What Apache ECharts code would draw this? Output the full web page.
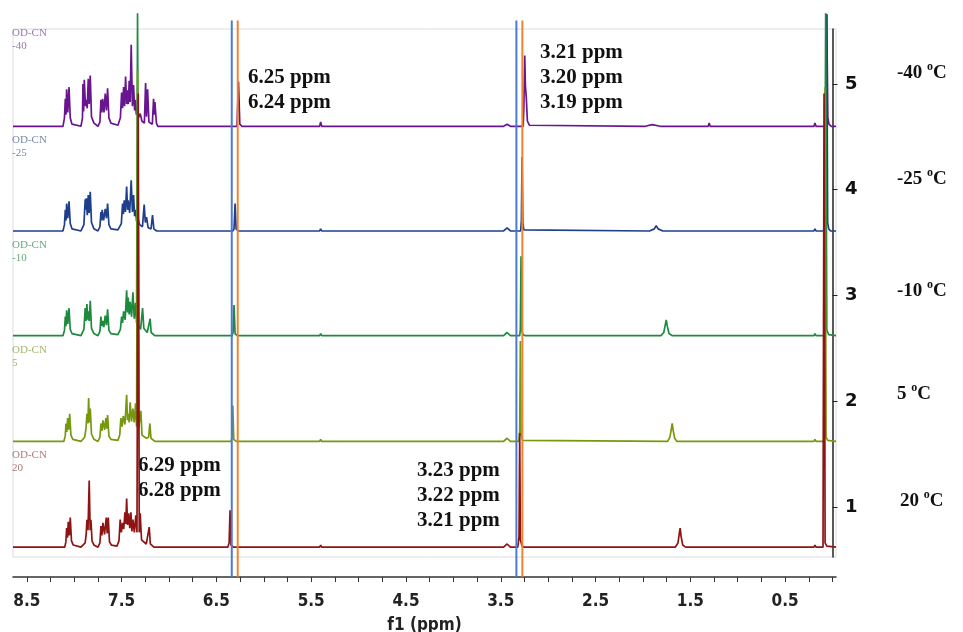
<!DOCTYPE html>
<html>
<head>
<meta charset="utf-8">
<title>VT 1H NMR</title>
<script src="https://cdn.jsdelivr.net/npm/echarts@6/dist/echarts.min.js"></script>
<style>
  html, body { margin: 0; padding: 0; background: #fff; }
  #chart { width: 963px; height: 632px; }
</style>
</head>
<body>
<div id="chart"></div>
<script>
// spectra: [ppm, intensity above own baseline]
var specM40 = [
  [8.646,0],[8.119,0],[8.103,0.08],[8.094,0.26],[8.087,0.11],[8.080,0.35],[8.068,0.13],[8.055,0.37],[8.042,0.08],[8.024,0.02],[7.929,0],
  [7.913,0.08],[7.908,0.40],[7.901,0.14],[7.894,0.44],[7.881,0.19],[7.873,0.25],[7.863,0.17],[7.852,0.45],[7.842,0.21],[7.831,0.48],[7.818,0.09],[7.792,0.03],[7.750,0],
  [7.729,0.04],[7.718,0.25],[7.709,0.13],[7.700,0.26],[7.686,0.13],[7.673,0.31],[7.660,0.15],[7.648,0.36],[7.634,0.08],[7.613,0.03],[7.539,0.01],
  [7.513,0.08],[7.500,0.32],[7.490,0.17],[7.479,0.37],[7.469,0.19],[7.458,0.47],[7.447,0.21],[7.437,0.34],[7.429,0.21],[7.420,0.43],[7.410,0.23],[7.399,0.77],[7.386,0.19],[7.374,0.39],[7.363,0.15],[7.353,0.25],[7.345,0.11],[7.336,0.19],[7.323,0.08],[7.304,0.12],[7.286,0.05],[7.260,0.03],[7.247,0.41],[7.237,0.09],[7.226,0.35],[7.212,0.04],[7.176,0.02],[7.163,0.26],[7.156,0.11],[7.149,0.23],[7.133,0.03],[7.118,0],
  [6.283,0],[6.267,0.42],[6.253,0.02],[6.232,0],
  [5.411,0],[5.400,0.04],[5.389,0],
  [3.470,0],[3.433,0.02],[3.398,0],
  [3.263,0],[3.256,0.19],[3.247,0.67],[3.240,0.38],[3.231,0.28],[3.219,0.05],[3.198,0.01],[3.177,0],
  [1.976,0],[1.902,0.015],[1.818,0],
  [1.311,0],[1.301,0.03],[1.290,0],
  [0.196,0],[0.185,0.03],[0.174,0],
  [0.070,0],[0.061,1.06],[0.049,0.08],[0.037,0.02],[0.016,0],[-0.037,0]
];
var specM25 = [
  [8.646,0],[8.119,0],[8.103,0.06],[8.094,0.20],[8.087,0.10],[8.080,0.26],[8.068,0.12],[8.055,0.28],[8.042,0.07],[8.024,0.02],[7.929,0],
  [7.898,0.06],[7.884,0.30],[7.878,0.20],[7.873,0.31],[7.862,0.15],[7.852,0.34],[7.842,0.17],[7.831,0.37],[7.818,0.08],[7.792,0.02],[7.750,0],
  [7.729,0.04],[7.718,0.18],[7.711,0.10],[7.705,0.20],[7.690,0.10],[7.673,0.21],[7.660,0.12],[7.648,0.26],[7.634,0.06],[7.613,0.02],[7.539,0.01],
  [7.503,0.07],[7.490,0.26],[7.481,0.16],[7.473,0.29],[7.460,0.18],[7.447,0.42],[7.437,0.20],[7.431,0.29],[7.415,0.17],[7.399,0.48],[7.386,0.18],[7.374,0.34],[7.363,0.14],[7.353,0.20],[7.342,0.09],[7.328,0.12],[7.310,0.06],[7.280,0.04],[7.262,0.25],[7.250,0.08],[7.237,0.13],[7.220,0.03],[7.190,0.02],[7.174,0.15],[7.160,0.02],[7.130,0],
  [6.325,0],[6.314,0.02],[6.303,0.26],[6.292,0.02],[6.270,0],
  [5.411,0],[5.400,0.02],[5.389,0],
  [3.470,0],[3.433,0.03],[3.398,0],
  [3.290,0],[3.282,0.10],[3.275,0.70],[3.267,0.08],[3.256,0.01],[3.240,0],
  [1.930,0],[1.880,0.02],[1.860,0.05],[1.840,0.02],[1.790,0],
  [1.311,0],[1.301,0.01],[1.290,0],
  [0.196,0],[0.185,0.02],[0.174,0],
  [0.080,0],[0.070,0.02],[0.061,2.05],[0.051,0.08],[0.040,0.02],[0.020,0],[-0.037,0]
];
var specM10 = [
  [8.646,0],[8.119,0],[8.103,0.05],[8.094,0.18],[8.087,0.09],[8.080,0.24],[8.068,0.11],[8.055,0.26],[8.042,0.06],[8.024,0.02],[7.929,0],
  [7.898,0.06],[7.884,0.26],[7.876,0.14],[7.866,0.30],[7.859,0.15],[7.852,0.23],[7.842,0.14],[7.831,0.33],[7.818,0.07],[7.792,0.02],[7.750,0],
  [7.729,0.04],[7.718,0.18],[7.710,0.09],[7.700,0.14],[7.688,0.08],[7.673,0.19],[7.660,0.10],[7.648,0.25],[7.634,0.05],[7.613,0.02],[7.539,0.01],
  [7.513,0.06],[7.500,0.18],[7.490,0.12],[7.479,0.23],[7.463,0.15],[7.447,0.43],[7.438,0.22],[7.431,0.36],[7.420,0.20],[7.410,0.32],[7.395,0.18],[7.381,0.41],[7.367,0.16],[7.353,0.31],[7.342,0.12],[7.332,3.05],[7.320,0.10],[7.300,0.06],[7.279,0.26],[7.266,0.07],[7.230,0.03],[7.199,0.16],[7.188,0.03],[7.150,0],
  [6.335,0],[6.324,0.03],[6.314,0.29],[6.303,0.02],[6.280,0],
  [5.411,0],[5.400,0.02],[5.389,0],
  [3.470,0],[3.433,0.03],[3.398,0],
  [3.300,0],[3.293,0.06],[3.286,0.75],[3.279,0.05],[3.265,0.01],[3.240,0],
  [1.810,0],[1.780,0.03],[1.765,0.10],[1.754,0.15],[1.743,0.09],[1.725,0.02],[1.690,0],
  [0.196,0],[0.185,0.02],[0.174,0],
  [0.085,0],[0.072,3.05],[0.060,0.05],[0.040,0.01],[0.020,0],[-0.037,0]
];
var spec5 = [
  [8.646,0],[8.110,0],[8.095,0.05],[8.087,0.17],[8.078,0.09],[8.069,0.22],[8.058,0.11],[8.048,0.26],[8.035,0.06],[8.015,0.02],[7.929,0],
  [7.890,0.04],[7.876,0.12],[7.866,0.26],[7.856,0.17],[7.848,0.41],[7.840,0.18],[7.831,0.31],[7.818,0.07],[7.792,0.02],[7.750,0],
  [7.729,0.04],[7.718,0.17],[7.708,0.10],[7.697,0.20],[7.680,0.11],[7.666,0.22],[7.657,0.12],[7.648,0.25],[7.634,0.05],[7.613,0.02],[7.539,0.01],
  [7.520,0.06],[7.508,0.22],[7.495,0.14],[7.483,0.24],[7.465,0.16],[7.447,0.44],[7.438,0.20],[7.431,0.26],[7.420,0.18],[7.410,0.37],[7.395,0.19],[7.381,0.31],[7.367,0.18],[7.353,0.36],[7.342,0.14],[7.332,3.51],[7.320,0.12],[7.297,0.29],[7.285,0.06],[7.240,0.03],[7.215,0.04],[7.202,0.17],[7.190,0.03],[7.150,0],
  [6.345,0],[6.335,0.04],[6.327,0.34],[6.317,0.02],[6.290,0],
  [5.411,0],[5.400,0.02],[5.389,0],
  [3.470,0],[3.433,0.03],[3.398,0],
  [3.310,0],[3.300,0.10],[3.293,0.95],[3.286,0.06],[3.270,0.01],[3.250,0],
  [1.740,0],[1.715,0.04],[1.700,0.12],[1.691,0.17],[1.680,0.10],[1.665,0.03],[1.640,0],
  [0.196,0],[0.185,0.02],[0.174,0],
  [0.090,0],[0.079,3.35],[0.068,0.04],[0.050,0.01],[0.030,0],[-0.037,0]
];
var spec20 = [
  [8.646,0],[8.100,0],[8.088,0.05],[8.080,0.18],[8.071,0.09],[8.063,0.24],[8.052,0.11],[8.042,0.28],[8.029,0.06],[8.010,0.02],[7.929,0],
  [7.885,0.04],[7.874,0.12],[7.866,0.26],[7.855,0.16],[7.842,0.63],[7.832,0.16],[7.824,0.26],[7.812,0.06],[7.792,0.02],[7.750,0],
  [7.729,0.04],[7.718,0.20],[7.708,0.11],[7.697,0.23],[7.680,0.12],[7.662,0.28],[7.652,0.13],[7.641,0.28],[7.628,0.05],[7.608,0.02],[7.550,0.01],
  [7.528,0.06],[7.515,0.26],[7.503,0.14],[7.490,0.23],[7.478,0.17],[7.465,0.33],[7.456,0.22],[7.447,0.46],[7.437,0.21],[7.426,0.32],[7.414,0.18],[7.402,0.33],[7.392,0.15],[7.381,0.26],[7.366,0.14],[7.350,0.30],[7.338,0.14],[7.325,4.29],[7.314,0.14],[7.304,0.32],[7.290,0.07],[7.240,0.03],[7.220,0.04],[7.209,0.19],[7.197,0.03],[7.160,0],
  [6.380,0],[6.366,0.04],[6.356,0.35],[6.346,0.02],[6.320,0],
  [5.411,0],[5.400,0.02],[5.389,0],
  [3.470,0],[3.433,0.03],[3.398,0],
  [3.320,0],[3.307,0.10],[3.300,1.08],[3.293,0.07],[3.275,0.01],[3.250,0],
  [1.660,0],[1.630,0.04],[1.615,0.14],[1.607,0.18],[1.597,0.10],[1.580,0.02],[1.550,0],
  [0.196,0],[0.185,0.02],[0.174,0],
  [0.100,0],[0.089,4.29],[0.078,0.04],[0.060,0.01],[0.040,0],[-0.037,0]
];

var spectra = [specM40, specM25, specM10, spec5, spec20];
var offsets = [4.60, 3.61, 2.62, 1.62, 0.62];
var tempNames = ['-40', '-25', '-10', '5', '20'];
var colors = ['#6a1590', '#1f3f8c', '#1d8a3e', '#75980f', '#8e1414'];
var tagColors = ['#9a78ad', '#7888a8', '#6aa87c', '#a4b66a', '#b07a7a'];

// reference lines (ppm)
var blueLines = [6.338, 3.335];
var orangeLines = [6.275, 3.272];
var lineSpan = [0.34, 5.60];

var xLabelVals = [8.5, 7.5, 6.5, 5.5, 4.5, 3.5, 2.5, 1.5, 0.5];
var xTickVals = [8.5, 8.25, 8, 7.75, 7.5, 7.25, 7, 6.75, 6.5, 6.25, 6, 5.75, 5.5, 5.25, 5, 4.75, 4.5, 4.25, 4, 3.75, 3.5, 3.25, 3, 2.75, 2.5, 2.25, 2, 1.75, 1.5, 1.25, 1, 0.75, 0.5, 0.25, 0];
var yLabelVals = [1, 2, 3, 4, 5];

var chart = echarts.init(document.getElementById('chart'));

var series = [];
spectra.forEach(function (s, i) {
  series.push({
    name: tempNames[i],
    type: 'line',
    data: s.map(function (p) { return [p[0], p[1] + offsets[i]]; }),
    showSymbol: false,
    symbol: 'none',
    clip: false,
    silent: true,
    lineStyle: { color: colors[i], width: 1.7 },
    z: 2 + i
  });
});
blueLines.concat(orangeLines).forEach(function (ppm, i) {
  series.push({
    type: 'line',
    data: [[ppm, lineSpan[0]], [ppm, lineSpan[1]]],
    showSymbol: false,
    symbol: 'none',
    clip: false,
    silent: true,
    lineStyle: { color: i < blueLines.length ? '#4a7bd4' : '#f0842e', width: 2 },
    z: 10
  });
});

var annFont = 'bold 21px "Liberation Serif", "Times New Roman", serif';
var graphics = [
  { type: 'text', left: 248, top: 65, style: { text: '6.25 ppm\n6.24 ppm', font: annFont, lineHeight: 25, fill: '#111' } },
  { type: 'text', left: 540, top: 40, style: { text: '3.21 ppm\n3.20 ppm\n3.19 ppm', font: annFont, lineHeight: 25, fill: '#111' } },
  { type: 'text', left: 138, top: 453, style: { text: '6.29 ppm\n6.28 ppm', font: annFont, lineHeight: 25, fill: '#111' } },
  { type: 'text', left: 417, top: 458, style: { text: '3.23 ppm\n3.22 ppm\n3.21 ppm', font: annFont, lineHeight: 25, fill: '#111' } }
];
var tempPos = [[897, 61], [897, 167], [897, 279], [897, 382], [900, 489]];
tempNames.forEach(function (t, i) {
  graphics.push({
    type: 'text', left: tempPos[i][0], top: tempPos[i][1],
    style: {
      text: '{a|' + t + ' }{s|o}{a|C}',
      rich: {
        a: { fontFamily: 'Liberation Serif', fontWeight: 'bold', fontSize: 19, lineHeight: 22, fill: '#111', verticalAlign: 'bottom' },
        s: { fontFamily: 'Liberation Serif', fontWeight: 'bold', fontSize: 12, lineHeight: 22, fill: '#111', verticalAlign: 'top' }
      }
    }
  });
});
var tagTops = [27, 134, 239, 344, 449];
tempNames.forEach(function (t, i) {
  graphics.push({
    type: 'text', left: 12, top: tagTops[i],
    style: { text: 'OD-CN\n' + t, font: '11px "Liberation Serif", serif', lineHeight: 13, fill: tagColors[i] }
  });
});

var option = {
  animation: false,
  backgroundColor: '#fff',
  grid: {
    left: 13, right: 127, top: 29, bottom: 75,
    containLabel: false,
    outerBoundsMode: 'none',
    show: true, borderColor: '#dcdcdc', borderWidth: 1
  },
  xAxis: {
    type: 'value',
    inverse: true,
    min: -0.037,
    max: 8.646,
    offset: 20,
    name: 'f1 (ppm)',
    nameLocation: 'middle',
    nameGap: 40,
    nameTextStyle: { fontFamily: 'DejaVu Sans Condensed, DejaVu Sans', fontWeight: 'bold', fontSize: 17, color: '#222' },
    axisLine: { lineStyle: { color: '#333', width: 1.5 } },
    axisTick: { customValues: xTickVals, length: 5, lineStyle: { color: '#333' } },
    axisLabel: {
      customValues: xLabelVals,
      margin: 16,
      fontFamily: 'DejaVu Sans Condensed, DejaVu Sans',
      fontWeight: 'bold', fontSize: 17, color: '#222',
      formatter: function (v) { return v.toFixed(1); }
    },
    splitLine: { show: false }
  },
  yAxis: {
    type: 'value',
    position: 'right',
    min: 0.527,
    max: 5.52,
    offset: 3,
    axisLine: { show: true, lineStyle: { color: '#222', width: 1.5 } },
    axisTick: { show: true, customValues: yLabelVals, length: 5, lineStyle: { color: '#222' } },
    axisLabel: {
      customValues: yLabelVals,
      margin: 6,
      fontFamily: 'DejaVu Sans',
      fontWeight: 'bold', fontSize: 18, color: '#111'
    },
    splitLine: { show: false }
  },
  graphic: graphics,
  series: series
};
chart.setOption(option);
</script>
</body>
</html>
